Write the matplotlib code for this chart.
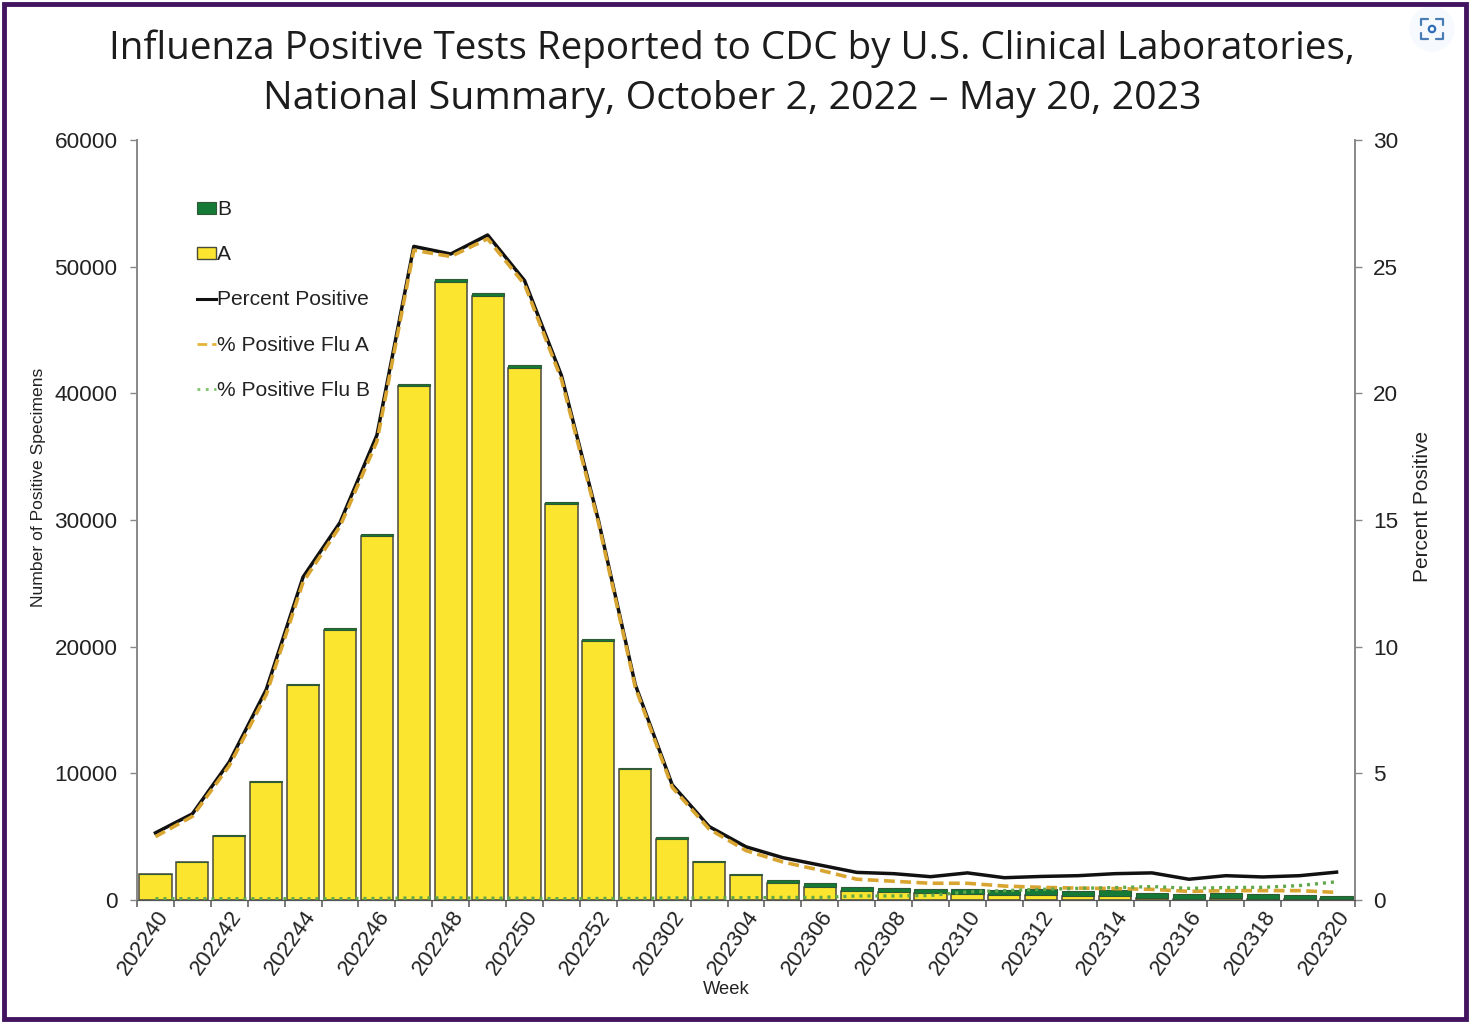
import numpy as np
import matplotlib
matplotlib.use("Agg")
import matplotlib.pyplot as plt
from matplotlib.lines import Line2D
from matplotlib.patches import Patch, Rectangle, Circle
from matplotlib.transforms import ScaledTranslation

weeks = ["202240", "202241", "202242", "202243", "202244", "202245", "202246", "202247",
         "202248", "202249", "202250", "202251", "202252", "202301", "202302", "202303",
         "202304", "202305", "202306", "202307", "202308", "202309", "202310", "202311",
         "202312", "202313", "202314", "202315", "202316", "202317", "202318", "202319",
         "202320"]
flu_a = [2020, 2970, 5060, 9340, 16950, 21350, 28750, 40550, 48800, 47700, 42000, 31300, 20450,
         10320, 4850, 2990, 1980, 1320, 1000, 680, 630, 530, 470, 420, 420, 290, 280, 150, 110,
         140, 100, 80, 40]
flu_b = [30, 40, 50, 70, 70, 110, 160, 170, 200, 190, 220, 90, 170, 90, 100, 70, 80, 260, 370,
         340, 290, 310, 420, 340, 420, 440, 500, 420, 360, 380, 340, 340, 300]
pct_total = [2.65, 3.4, 5.45, 8.3, 12.75, 14.9, 18.35, 25.8, 25.5, 26.25, 24.45, 20.7, 15.0, 8.5,
             4.55, 2.9, 2.1, 1.67, 1.38, 1.09, 1.04, 0.92, 1.07, 0.88, 0.93, 0.96, 1.04, 1.07,
             0.82, 0.96, 0.91, 0.96, 1.1]
pct_a = [2.5, 3.3, 5.3, 8.1, 12.55, 14.75, 18.1, 25.65, 25.4, 26.1, 24.3, 20.55, 14.9, 8.4, 4.45,
         2.8, 1.95, 1.5, 1.18, 0.82, 0.74, 0.66, 0.66, 0.55, 0.5, 0.47, 0.45, 0.42, 0.34, 0.37,
         0.37, 0.37, 0.3]
pct_b = [0.05, 0.05, 0.05, 0.05, 0.05, 0.05, 0.06, 0.08, 0.08, 0.07, 0.07, 0.05, 0.06, 0.06, 0.08,
         0.08, 0.09, 0.1, 0.1, 0.16, 0.16, 0.18, 0.32, 0.37, 0.42, 0.46, 0.49, 0.53, 0.46, 0.49,
         0.5, 0.57, 0.72]

plt.rcParams["font.family"] = ["Liberation Sans", "DejaVu Sans"]

fig = plt.figure(figsize=(14.7, 10.23), dpi=100)
W, H = 1470, 1023
ax = fig.add_axes([137 / W, 1 - 900 / H, (1355 - 137) / W, (900 - 140) / H])
x = np.arange(len(weeks))

# stacked bars
ax.bar(x, flu_a, width=0.87, color="#FBE52E", edgecolor="#4a4a3a", linewidth=1.1, zorder=2)
ax.bar(x, flu_b, width=0.87, bottom=flu_a, color="#147A36", edgecolor="#2f5a35", linewidth=0.8, zorder=2)
ax.set_xlim(-0.5, len(weeks) - 0.5)
ax.set_ylim(0, 60000)
ax.set_yticks(range(0, 60001, 10000))

ax2 = ax.twinx()
ax2.set_position(ax.get_position())
ax2.plot(x, pct_total, color="#111111", linewidth=2.5, zorder=3)
ax2.plot(x, pct_a, color="#D9A531", linewidth=2.6, dashes=(3, 1.5), zorder=4)
ax2.plot(x, pct_b, color="#5FA84A", linewidth=2.4, dashes=(0.9, 1.5), zorder=5)
ax2.set_ylim(0, 30)
ax2.set_yticks(range(0, 31, 5))

# tick labels every second week, tick marks on bin edges
ax.set_xticks(x[::2])
ax.set_xticklabels(weeks[::2], rotation=55, ha="right", rotation_mode="anchor", fontsize=15.8, color="#222222")
shift = ScaledTranslation(-7 / 100, 0, fig.dpi_scale_trans)
for lab in ax.get_xticklabels():
    lab.set_transform(lab.get_transform() + shift)
ax.set_xticks(np.arange(len(weeks) + 1) - 0.5, minor=True)
ax.tick_params(axis="x", which="major", length=0, pad=5)
ax.tick_params(axis="x", which="minor", length=5, width=1.1, color="#555555")
ax.tick_params(axis="y", length=5, width=1, color="#888888", labelsize=16.2, labelcolor="#222222", pad=9)
ax2.tick_params(axis="y", length=5, width=1, color="#888888", labelsize=16.2, labelcolor="#222222", pad=8)

for a in (ax, ax2):
    a.spines["top"].set_visible(False)
    a.spines["left"].set_color("#8a8a8a")
    a.spines["right"].set_color("#8a8a8a")
    a.spines["bottom"].set_color("#555555")
    a.spines["left"].set_linewidth(1.3)
    a.spines["right"].set_linewidth(1.3)

fig.text(39 / W, 1 - 487 / H, "Number of Positive Specimens", rotation=90, ha="center", va="center",
         fontsize=12.6, color="#222222")
fig.text(1422 / W, 1 - 506 / H, "Percent Positive", rotation=90, ha="center", va="center",
         fontsize=15, color="#222222")
fig.text(726 / W, 1 - 989 / H, "Week", ha="center", va="center", fontsize=13.2, color="#222222")

fig.text(732 / W, 1 - 49 / H, "Influenza Positive Tests Reported to CDC by U.S. Clinical Laboratories,",
         ha="center", va="center", fontsize=27.85, family="Open Sans", color="#1c1c1c")
fig.text(732 / W, 1 - 99 / H, "National Summary, October 2, 2022 \u2013 May 20, 2023",
         ha="center", va="center", fontsize=28.35, family="Open Sans", color="#1c1c1c")

handles = [
    Patch(facecolor="#147A36", edgecolor="#2f5a35", linewidth=0.8),
    Patch(facecolor="#FBE52E", edgecolor="#4a4a3a", linewidth=1.0),
    Line2D([], [], color="#111111", linewidth=2.2),
    Line2D([], [], color="#E5B53A", linewidth=2, dashes=(3.5, 1.8)),
    Line2D([], [], color="#7CC46A", linewidth=2, dashes=(1, 2)),
]
leg = ax2.legend(handles, ["B", "A", "Percent Positive", "% Positive Flu A", "% Positive Flu B"],
                 loc="upper left", bbox_to_anchor=(60 / 1218, 1 - 60 / 760), frameon=False,
                 fontsize=15.1, labelspacing=1.25, handlelength=0.9, handleheight=0.5,
                 handletextpad=0.06, borderpad=0, borderaxespad=0, labelcolor="#222222")

# purple frame of the screenshot
fig.add_artist(Rectangle((4 / W, 4 / H), 1 - 8 / W, 1 - 8 / H, transform=fig.transFigure,
                         fill=False, edgecolor="#431561", linewidth=3.5))

# scan icon in the top right corner
cx, cy = 1432, 29
icon_ax = fig.add_axes([(cx - 24) / W, 1 - (cy + 24) / H, 48 / W, 48 / H])
icon_ax.set_xlim(-24, 24)
icon_ax.set_ylim(-24, 24)
icon_ax.axis("off")
icon_ax.add_patch(Circle((0, 0), 22, color="#f6fafe", zorder=1))
for sx in (-1, 1):
    for sy in (-1, 1):
        icon_ax.plot([sx * 4, sx * 11, sx * 11], [sy * 10, sy * 10, sy * 4], color="#4A7CB5",
                     linewidth=1.6, solid_capstyle="round", zorder=2)
icon_ax.add_patch(Circle((0, 0), 3.2, fill=False, edgecolor="#2F6FB5", linewidth=1.6, zorder=2))

fig.savefig("out.png", dpi=100)
